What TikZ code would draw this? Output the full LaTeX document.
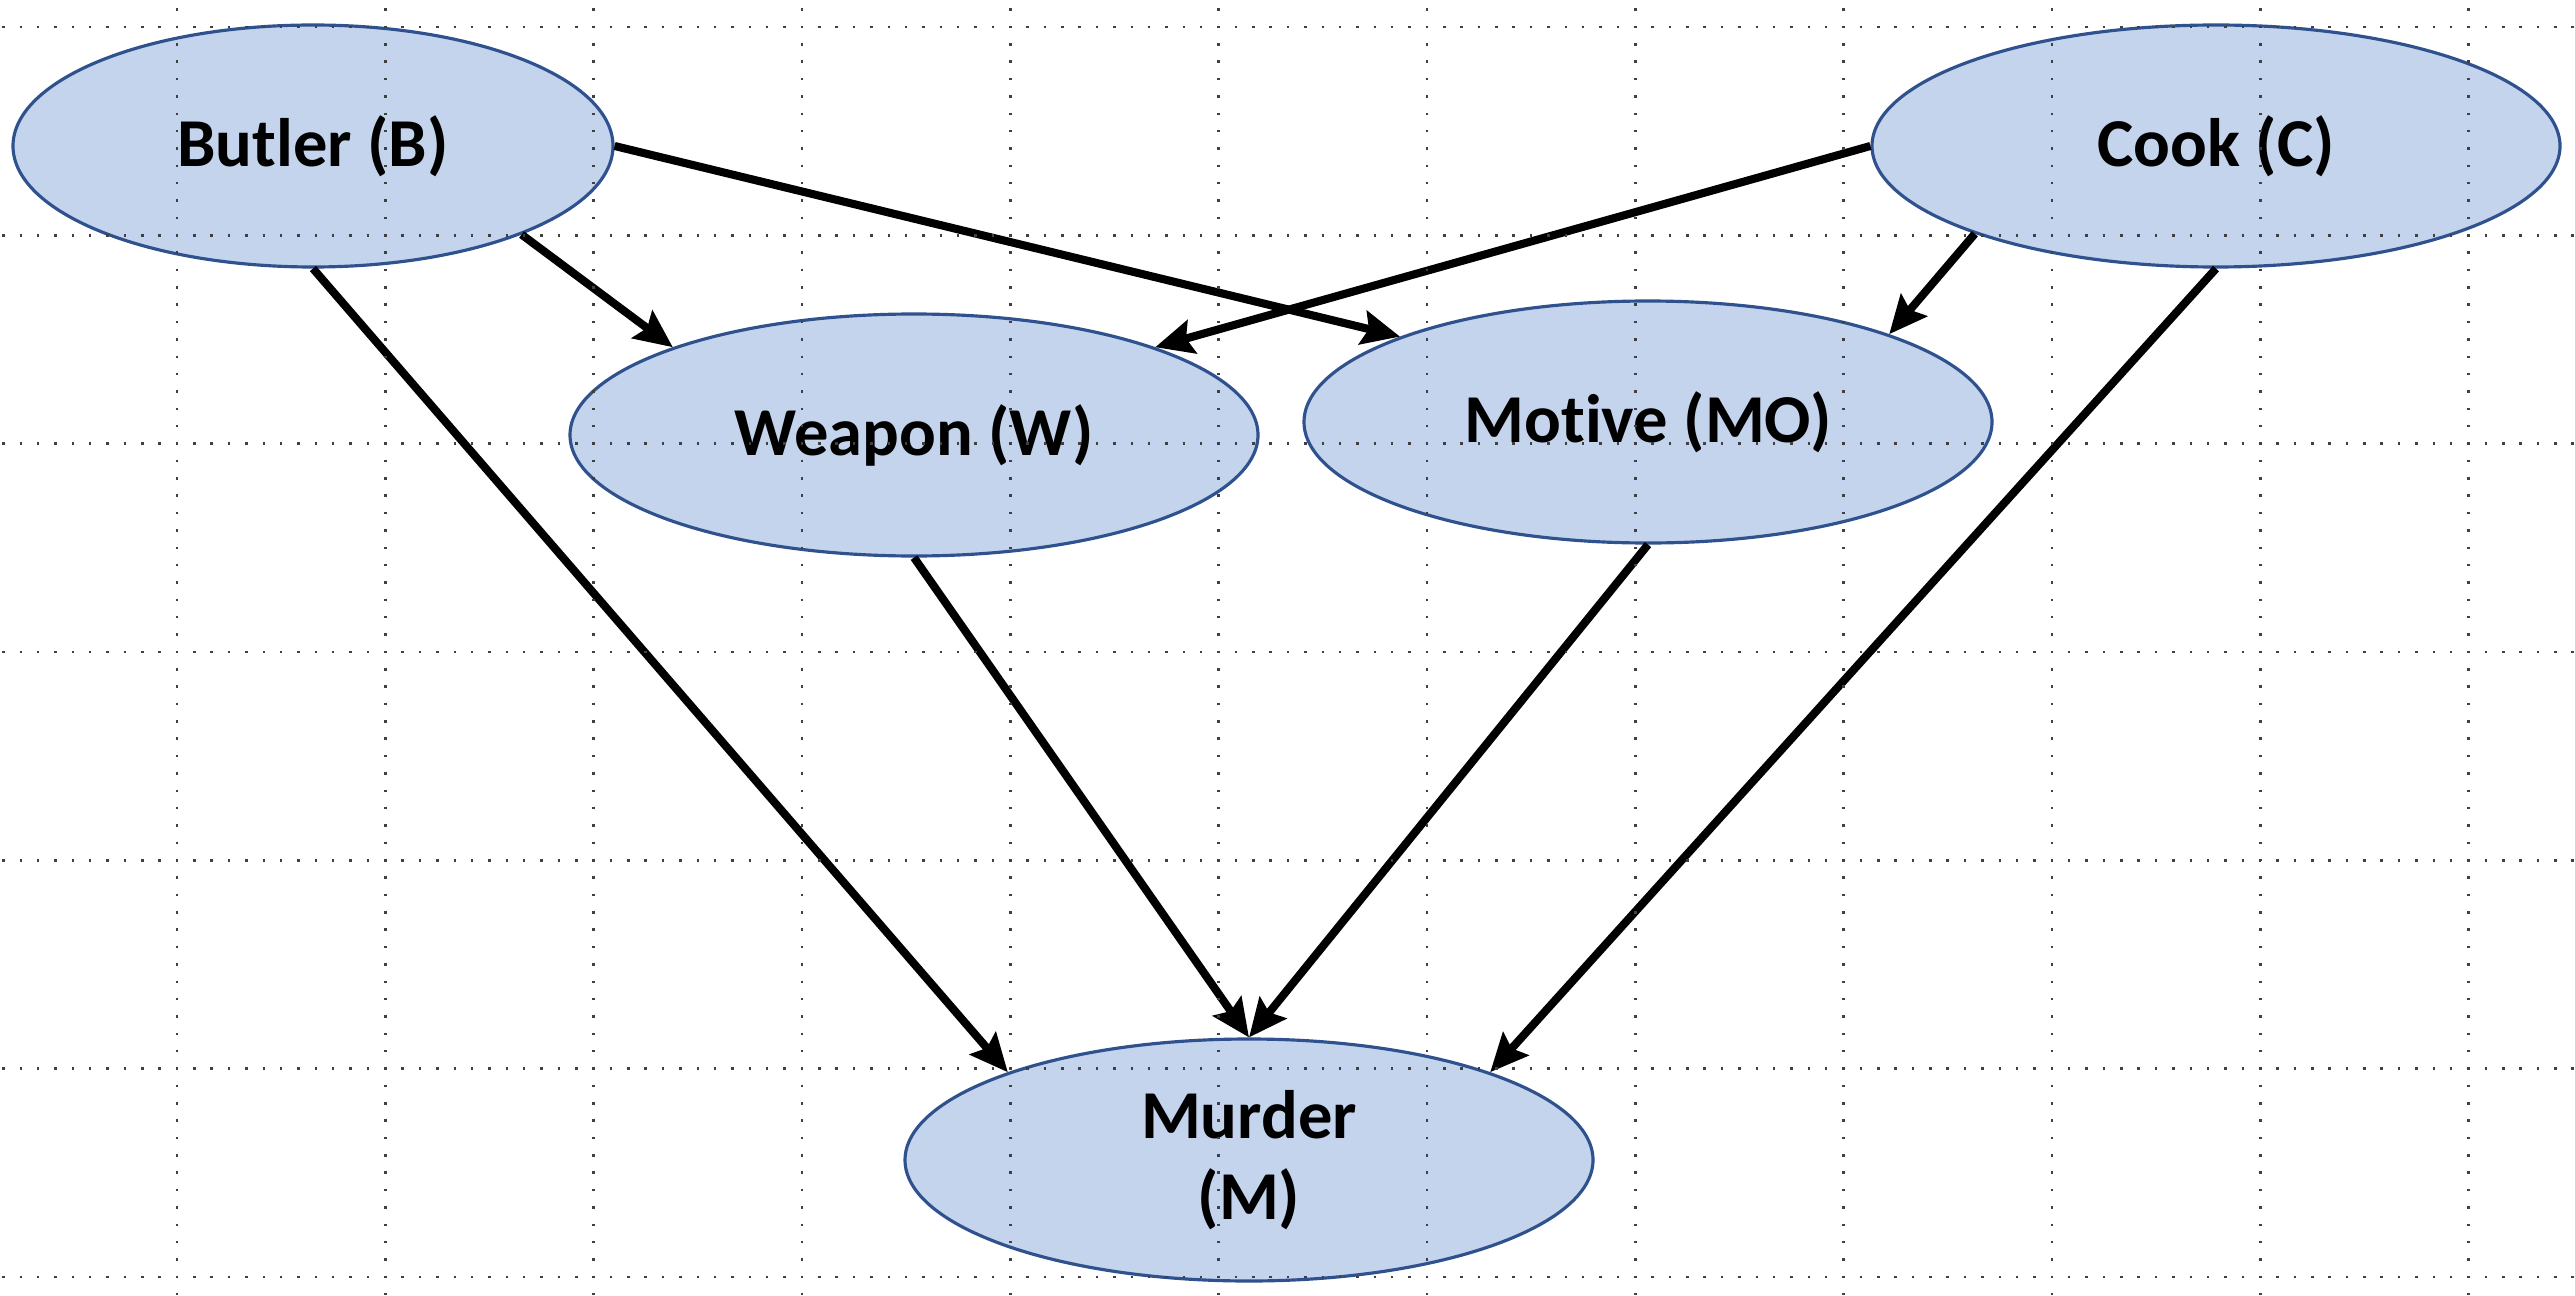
\documentclass[tikz,border=0pt]{standalone}
\usepackage{fontspec}
\setmainfont{Carlito}[Ligatures=NoCommon]
\usetikzlibrary{shapes.geometric,arrows.meta}
\definecolor{varfill}{RGB}{196,212,237}
\definecolor{varline}{RGB}{47,82,143}
\begin{document}
\begin{tikzpicture}[
  var/.style = {shape=ellipse, draw=varline, line width=0.9pt, fill=varfill,
    minimum width=6.88cm, minimum height=2.42cm, inner sep=0pt,
    align=center, font=\bfseries\fontsize{19.5}{23}\selectfont},
  link/.style = {line width=2.3pt, -{Stealth[length=0.38cm, width=0.34cm, inset=0.06cm]}},
  griddots/.style = {line width=0.025cm, black!75,
    dash pattern=on 0.025cm off 0.14861cm}
  ]
  \useasboundingbox (0,0) rectangle (25.75,12.95);
  % variables
  \node[var, minimum width=6cm] (butler) at (3.13,11.49) {Butler (B)};
  \node[var] (cook)   at (22.16,11.49) {Cook (C)};
  \node[var] (weapon) at (9.14,8.60)   {Weapon (W)};
  \node[var] (motive) at (16.48,8.73)  {Motive (MO)};
  \node[var] (murder) at (12.49,1.35)  {Murder\\(M)};
  % dependencies
  \draw[link] (butler.south) -- (murder.160);
  \draw[link] (butler.-23)   -- (weapon.160);
  \draw[link] (butler.east)  -- (motive.161);
  \draw[link] (cook.west)    -- (weapon.20);
  \draw[link] (cook.200)     -- (motive.20);
  \draw[link] (cook.south)   -- (murder.20);
  \draw[link] (weapon.south) -- (murder.north);
  \draw[link] (motive.south) -- (murder.north);
  % grid
  \foreach \k in {0,...,6}
    \draw[griddots] (0.0215,12.68-2.0833*\k) -- (25.75,12.68-2.0833*\k);
  \foreach \k in {0,...,11}
    \draw[griddots] (1.77+2.0833*\k,12.8665) -- (1.77+2.0833*\k,0);
\end{tikzpicture}
\end{document}
